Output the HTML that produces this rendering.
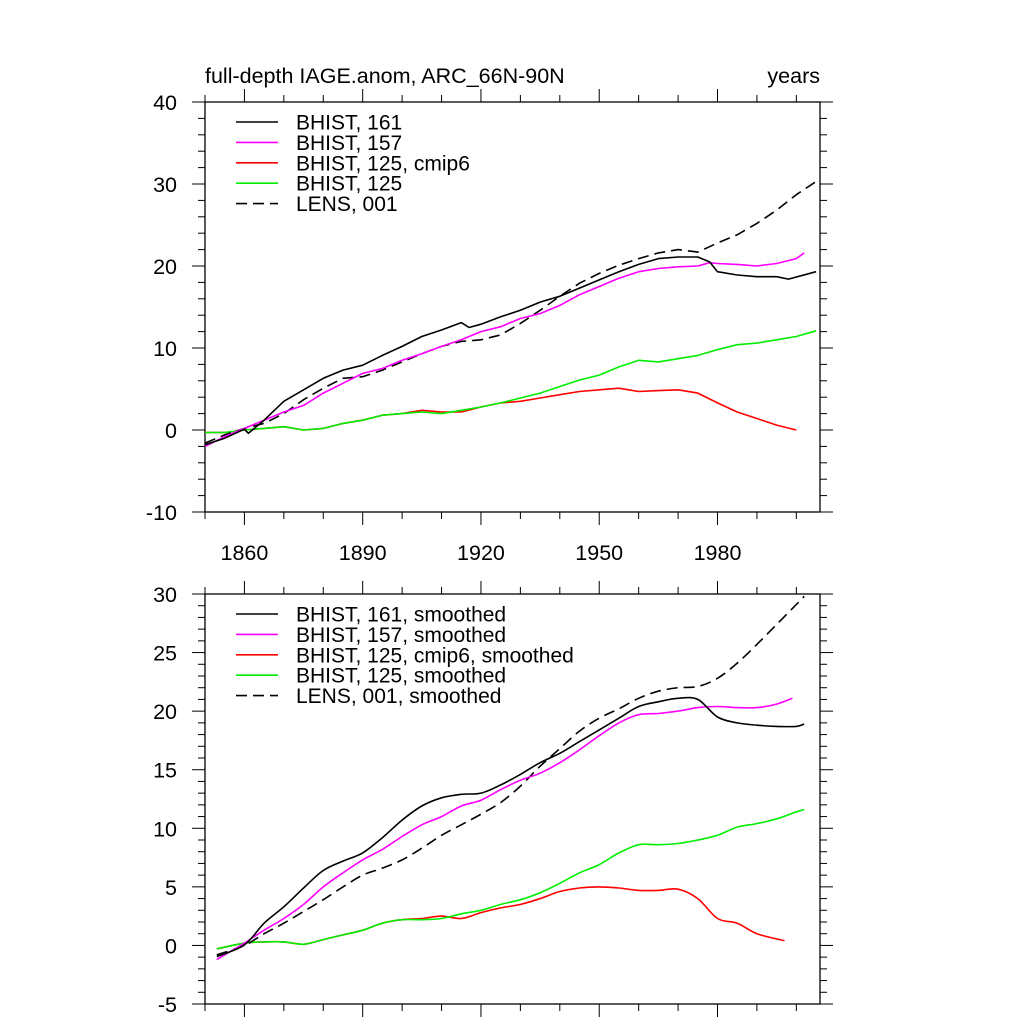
<!DOCTYPE html>
<html><head><meta charset="utf-8"><style>
body{margin:0;background:#fff;}
svg{display:block;font-family:"Liberation Sans",sans-serif;}
</style></head><body>
<svg id="chart" width="1024" height="1024" viewBox="0 0 1024 1024">
<text x="205" y="83" font-size="21.5">full-depth IAGE.anom, ARC_66N-90N</text>
<text x="820" y="83" font-size="21.5" text-anchor="end">years</text>
<g id="top"></g>
<g id="bot"></g>
</svg>
<script>
// ---- top panel data ----
const tBlackYrs=[1850,1855,1860,1861,1865,1870,1875,1880,1885,1890,1895,1900,1905,1910,1915,1917,1920,1925,1930,1935,1940,1945,1950,1955,1960,1965,1970,1975,1978,1980,1985,1990,1995,1998,2005];
const tBlackVals=[-1.8,-1.0,0.1,-0.4,1.2,3.5,4.9,6.3,7.3,7.9,9.1,10.2,11.4,12.2,13.1,12.5,12.9,13.8,14.6,15.6,16.3,17.3,18.3,19.3,20.2,20.9,21.1,21.1,20.5,19.3,18.9,18.7,18.7,18.4,19.3];
const tMagYrs=[1850,1855,1860,1865,1870,1875,1880,1885,1890,1895,1900,1905,1910,1915,1920,1925,1930,1935,1940,1945,1950,1955,1960,1965,1970,1975,1978,1980,1985,1990,1995,2000,2002];
const tMagVals=[-2.0,-0.8,0.2,1.2,2.2,3.0,4.5,5.7,6.9,7.5,8.5,9.3,10.2,11.0,12.0,12.6,13.6,14.2,15.2,16.5,17.5,18.5,19.3,19.7,19.9,20.0,20.4,20.3,20.2,20.0,20.3,20.9,21.6];
const tLensYrs=[1850,1855,1860,1865,1870,1875,1880,1885,1890,1895,1900,1905,1910,1915,1920,1925,1930,1935,1940,1945,1950,1955,1960,1965,1970,1975,1980,1985,1990,1995,2000,2005];
const tLensVals=[-1.6,-0.6,0.2,0.8,2.0,3.7,5.1,6.3,6.5,7.3,8.3,9.3,10.2,10.8,11.0,11.6,13.0,14.6,16.3,17.9,19.1,20.1,20.9,21.6,22.0,21.7,22.8,23.8,25.2,26.8,28.7,30.3];
const tGreenYrs=[1850,1855,1860,1865,1870,1875,1880,1885,1890,1895,1900,1905,1910,1915,1920,1925,1930,1935,1940,1945,1950,1955,1960,1965,1970,1975,1980,1985,1990,1995,2000,2005];
const tGreenVals=[-0.3,-0.3,0,0.2,0.4,0,0.2,0.8,1.2,1.8,2.0,2.2,2.0,2.4,2.8,3.3,3.9,4.5,5.3,6.1,6.7,7.7,8.5,8.3,8.7,9.1,9.8,10.4,10.6,11.0,11.4,12.1];
const tRedYrs=[1850,1855,1860,1865,1870,1875,1880,1885,1890,1895,1900,1905,1910,1915,1920,1925,1930,1935,1940,1945,1950,1955,1960,1965,1970,1975,1980,1985,1990,1995,2000];
const tRedVals=[-0.3,-0.3,0,0.2,0.4,0,0.2,0.8,1.2,1.8,2.0,2.4,2.2,2.2,2.8,3.3,3.5,3.9,4.3,4.7,4.9,5.1,4.7,4.8,4.9,4.5,3.3,2.2,1.4,0.6,0.0];
// ---- bottom panel data (smoothed) ----
const bYrs=[1853,1860,1865,1870,1875,1880,1885,1890,1895,1900,1905,1910,1915,1920,1925,1930,1935,1940,1945,1950,1955,1960,1965,1970,1975,1980,1985,1990,1995,2000,2002];
const bBlackVals=[-0.95,0.05,1.9,3.3,4.9,6.4,7.2,7.9,9.2,10.7,11.9,12.6,12.9,13.0,13.7,14.6,15.6,16.4,17.4,18.4,19.4,20.4,20.8,21.1,21.0,19.5,19.0,18.8,18.7,18.7,18.9];
const bLensVals=[-0.8,0,1.0,1.9,2.9,3.9,5.0,6.0,6.6,7.3,8.3,9.4,10.3,11.2,12.2,13.6,15.3,16.8,18.3,19.4,20.2,21.1,21.7,22.0,22.1,22.8,24.1,25.7,27.4,29.1,29.8];
const bMagYrs=[1853,1860,1865,1870,1875,1880,1885,1890,1895,1900,1905,1910,1915,1920,1925,1930,1935,1940,1945,1950,1955,1960,1965,1970,1975,1980,1985,1990,1995,1999];
const bMagVals=[-1.2,0.2,1.3,2.3,3.5,5.0,6.2,7.3,8.2,9.3,10.3,11.0,11.9,12.4,13.3,14.1,14.7,15.6,16.7,17.9,19.0,19.7,19.8,20.0,20.3,20.4,20.3,20.3,20.6,21.1];
const bGreenVals=[-0.3,0.2,0.3,0.3,0.1,0.5,0.9,1.3,1.9,2.2,2.2,2.3,2.7,3.0,3.5,3.9,4.5,5.3,6.2,6.9,7.9,8.6,8.6,8.7,9.0,9.4,10.1,10.4,10.8,11.4,11.6];
const bRedYrs=[1853,1860,1865,1870,1875,1880,1885,1890,1895,1900,1905,1910,1915,1920,1925,1930,1935,1940,1945,1950,1955,1960,1965,1970,1975,1980,1985,1990,1997];
const bRedVals=[-0.3,0.2,0.3,0.3,0.1,0.5,0.9,1.3,1.9,2.2,2.3,2.5,2.3,2.8,3.2,3.5,4.0,4.6,4.9,5.0,4.9,4.7,4.7,4.8,4.0,2.3,1.9,1.0,0.4];
const xTickLabels=[1860,1890,1920,1950,1980];
const topYTicks=[-10,0,10,20,30,40];
const botYTicks=[-5,0,5,10,15,20,25,30];

const NS='http://www.w3.org/2000/svg';
function mk(tag,attrs,parent){const e=document.createElementNS(NS,tag);for(const k in attrs)e.setAttribute(k,attrs[k]);parent.appendChild(e);return e;}
const X0=205,X1=820,YR0=1850,YR1=2006;
const xs=y=>X0+(y-YR0)/(YR1-YR0)*(X1-X0);

function pathD(pts,smooth){
  if(!smooth)return pts.map((p,i)=>(i?'L':'M')+p[0].toFixed(1)+','+p[1].toFixed(1)).join('');
  let d='M'+pts[0][0].toFixed(1)+','+pts[0][1].toFixed(1);
  for(let i=0;i<pts.length-1;i++){
    const p0=pts[Math.max(0,i-1)],p1=pts[i],p2=pts[i+1],p3=pts[Math.min(pts.length-1,i+2)];
    const c1=[p1[0]+(p2[0]-p0[0])/6,p1[1]+(p2[1]-p0[1])/6];
    const c2=[p2[0]-(p3[0]-p1[0])/6,p2[1]-(p3[1]-p1[1])/6];
    d+='C'+c1[0].toFixed(1)+','+c1[1].toFixed(1)+' '+c2[0].toFixed(1)+','+c2[1].toFixed(1)+' '+p2[0].toFixed(1)+','+p2[1].toFixed(1);
  }
  return d;
}

function panel(g,top,bottom,ymin,ymax,yticks,yminor,showX,smooth,series,legend){
  const ys=v=>bottom-(v-ymin)/(ymax-ymin)*(bottom-top);
  const fr=mk('rect',{x:X0,y:top,width:X1-X0,height:bottom-top,fill:'none',stroke:'#000','stroke-width':1.3},g);
  
  
  for(let yr=1850;yr<=2000;yr+=10){
    const maj=(yr-1860)%30===0;const L=maj?13:7;const x=xs(yr);
    const t1=mk('line',{x1:x,x2:x,y1:bottom,y2:bottom+L,stroke:'#000','stroke-width':1},g);
    
    
    const t2=mk('line',{x1:x,x2:x,y1:top,y2:top-L,stroke:'#000','stroke-width':1},g);
    
    
  }
  if(showX){xTickLabels.forEach(yr=>{
    const t=mk('text',{x:xs(yr),y:bottom+48,'font-size':21.5,'text-anchor':'middle'},g);t.textContent=yr;
    
    
  });}
  for(let v=ymin;v<=ymax+1e-9;v+=yminor){
    const maj=yticks.includes(Math.round(v));const L=maj?13:7;const y=ys(v);
    const a=mk('line',{x1:X0,x2:X0-L,y1:y,y2:y,stroke:'#000','stroke-width':1},g);
    
    
    const b=mk('line',{x1:X1,x2:X1+L,y1:y,y2:y,stroke:'#000','stroke-width':1},g);
    
    
  }
  yticks.forEach(v=>{
    const t=mk('text',{x:177,y:ys(v)+8,'font-size':21.5,'text-anchor':'end'},g);t.textContent=v;
    
    
  });
  series.forEach(s=>{
    const pts=s.yrs.map((yr,i)=>[xs(yr),ys(s.vals[i])]);
    const p=mk('path',{d:pathD(pts,smooth),fill:'none',stroke:s.c,'stroke-width':1.6,'stroke-linejoin':'round'},g);
    if(s.dash)p.setAttribute('stroke-dasharray','11,6');
    
    
  });
  legend.forEach((l,i)=>{
    const y=top+20+i*20.4;
    const ln=mk('line',{x1:236,x2:278,y1:y,y2:y,stroke:l.c,'stroke-width':1.6},g);
    if(l.dash)ln.setAttribute('stroke-dasharray','11,6');
    
    
    const t=mk('text',{x:296,y:y+7.5,'font-size':21},g);t.textContent=l.t;
    
    
  });
}
panel(document.getElementById('top'),102,512,-10,40,topYTicks,2,true,false,[
  {yrs:tRedYrs,vals:tRedVals,c:'#ff0000',name:'series-bhist-125-cmip6'},
  {yrs:tGreenYrs,vals:tGreenVals,c:'#00ee00',name:'series-bhist-125'},
  {yrs:tLensYrs,vals:tLensVals,c:'#000',dash:true,name:'series-lens-001'},
  {yrs:tMagYrs,vals:tMagVals,c:'#ff00ff',name:'series-bhist-157'},
  {yrs:tBlackYrs,vals:tBlackVals,c:'#000',name:'series-bhist-161'}
],[{t:'BHIST, 161',c:'#000'},{t:'BHIST, 157',c:'#ff00ff'},{t:'BHIST, 125, cmip6',c:'#ff0000'},{t:'BHIST, 125',c:'#00ee00'},{t:'LENS, 001',c:'#000',dash:true}]);
panel(document.getElementById('bot'),594,1004,-5,30,botYTicks,1,false,true,[
  {yrs:bRedYrs,vals:bRedVals,c:'#ff0000',name:'series-bhist-125-cmip6-smoothed'},
  {yrs:bYrs,vals:bGreenVals,c:'#00ee00',name:'series-bhist-125-smoothed'},
  {yrs:bYrs,vals:bLensVals,c:'#000',dash:true,name:'series-lens-001-smoothed'},
  {yrs:bMagYrs,vals:bMagVals,c:'#ff00ff',name:'series-bhist-157-smoothed'},
  {yrs:bYrs,vals:bBlackVals,c:'#000',name:'series-bhist-161-smoothed'}
],[{t:'BHIST, 161, smoothed',c:'#000'},{t:'BHIST, 157, smoothed',c:'#ff00ff'},{t:'BHIST, 125, cmip6, smoothed',c:'#ff0000'},{t:'BHIST, 125, smoothed',c:'#00ee00'},{t:'LENS, 001, smoothed',c:'#000',dash:true}]);
</script>
</body></html>
